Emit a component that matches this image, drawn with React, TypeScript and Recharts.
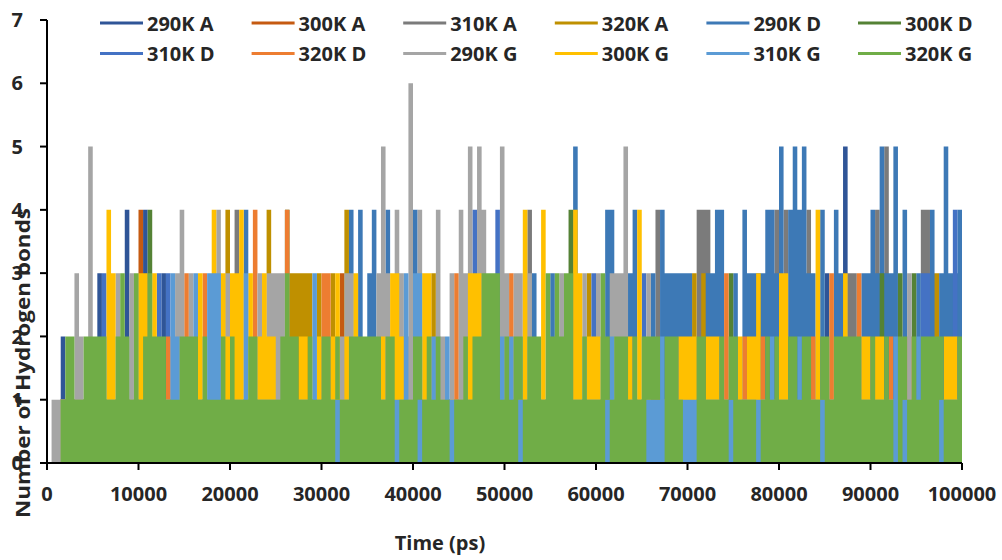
import React from 'react';
import { ComposedChart, Area, XAxis, YAxis, Legend } from 'recharts';

const WINDOW_PS = 500;

const timeTicks = [0, 10000, 20000, 30000, 40000, 50000, 60000, 70000, 80000, 90000, 100000];
const bondTicks = [0, 1, 2, 3, 4, 5, 6, 7];

const seriesNames = ['290K A', '300K A', '310K A', '320K A', '290K D', '300K D', '310K D', '320K D', '290K G', '300K G', '310K G', '320K G'];
const seriesColors = ['#2f5597', '#c55a11', '#7b7b7b', '#bf9000', '#3d79b6', '#548235', '#4472c4', '#ed7d31', '#a5a5a5', '#ffc000', '#5b9bd5', '#70ad47'];

// 20 groups of 10 windows (5000 ps each) + value at 100000 ps
const a290 = '0002111111 1311111411 1411131111 1111111111 1111111111 1111111111 1111111111 1111111111 1111111111 1111111111 1111111111 1111111111 1111111111 1111111111 1111111111 1111111111 1111111111 3111511111 1111111111 1111111111 1';
const a300 = '0001111111 1111111111 4111111111 1111111111 1111111111 1111111111 1111311111 1111111111 1111111111 1111111111 1111111111 1111111111 1111111111 1111111111 1111111111 1111111111 1111111111 1111111111 1111111111 1111111111 1';
const a310 = '0001111111 1111111111 1111111111 1111111111 1411111111 1111111111 1111111111 1111111111 1111111111 1111111111 1111141111 1111111111 1111111111 1114111111 1144411111 1111111114 1411114111 1111133111 1415111111 1441111111 1';
const a320 = '0001111111 1111111111 1111111111 1111111114 1111111141 1113333313 1131141111 1111111111 1111311111 1111111111 1111111111 1111111131 1111111111 1111111111 1313111111 1111111111 1111111111 1111111111 1111111111 1113311111 1';
const d290 = '0001111111 1111111111 1111111111 1111111111 1114111111 1111111111 1111114141 3411411111 4111111111 1111111111 1111113111 3111151111 1144111341 1131433333 3111334411 3143333443 5145453314 1143111133 4353351411 3114135334 3';
const d300 = '0001111111 1111111111 1141111111 1111111111 1111111111 1141111111 1111111111 1111111111 1111111111 1111111111 1111111111 1111411111 1111111111 1111111111 1111111113 1111111111 1111111111 1111111111 1131113113 1111111111 1';
const d310 = '0001111111 1131111111 1111313111 1111111111 1111111111 1111111111 1111111111 1111111111 1111111111 1114111141 1111111111 1111111113 1111111111 3111111111 1111111111 1111111111 1111111111 1111111111 1111111111 1331111141 1';
const d320 = '0001111111 1111111111 1111112111 3111311111 1111141111 1141111111 3311111111 1111111111 1111111113 1111111111 1311111111 1111111111 1111111111 1111111111 1111111131 1121112111 1111111211 1311111311 1111211121 1111111111 1';
const g290 = '0111113215 1111131131 1111111134 1311111413 1111113133 3311111111 1111233111 1135314326 1411142131 4351541115 3133131111 1131111311 3113335111 1311111111 1111111111 1111111111 1111111111 1111111111 1111111131 1111111111 1';
const g300 = '0001111111 1114311111 3313111111 1113114132 3341312322 1111122112 1123121311 1112133211 1133111111 1133311111 1111411141 1111143122 2111111214 1111111122 2211222111 1212231111 3311111141 1111311122 1221111111 1111112221 1';
const g310 = '0001111111 1111111111 1111111321 1131133311 1113111111 1111111131 1111111111 1111111131 3311211211 1111111112 1211111111 1111111111 1112111111 1111211111 1111111111 1111111121 1111211111 1111111111 1111121111 2111111111 1';
const g320 = '0001221122 2221123213 1232221112 2221211121 2111221111 1232211211 2212112222 2221221111 2212121111 1212233331 2122122213 2323311211 1321222121 2222122211 1122111212 2111111212 1122122112 2122222211 2112112212 1222221112 2';
// lowest count of 320K G in each window (1 where it never drops to 0)
const g320Low = '0000000000 0000000000 0000000000 0000000000 0000000000 0000000000 0001000000 0000001000 0100000010 0000000000 0001000000 0000000000 0010000000 0111100001 1100000001 0000010000 0000000001 0000000000 0000010100 0000010000 0';

const digits = (s: string) => s.replace(/\s/g, '').split('').map(Number);

const highs = [a290, a300, a310, a320, d290, d300, d310, d320, g290, g300, g310, g320].map(digits);
const greenLow = digits(g320Low);

const rows = highs[0].map((_, i) => {
  const row: Record<string, number | number[]> = { t: i * WINDOW_PS };
  highs.forEach((vals, k) => {
    row['s' + k] = [k === 11 ? greenLow[i] : 0, vals[i]];
  });
  return row;
});

const FONT = "'Open Sans', sans-serif";
const TEXT = '#262626';

function LegendGrid() {
  return (
    <svg width={1002} height={70}>
      {seriesNames.map((name, i) => {
        const x = 100 + (i % 6) * 151.6;
        const y = 23 + Math.floor(i / 6) * 30.5;
        return (
          <g key={name}>
            <line x1={x} x2={x + 43} y1={y} y2={y} stroke={seriesColors[i]} strokeWidth={3} />
            <text x={x + 47} y={y} dominantBaseline="central" fill={TEXT} fontFamily={FONT} fontWeight={700} fontSize={20}>
              {name}
            </text>
          </g>
        );
      })}
    </svg>
  );
}

function YTitle() {
  return (
    <text x={22} y={363} transform="rotate(-90 22 363)" textAnchor="middle" dominantBaseline="central"
      fill={TEXT} fontFamily={FONT} fontWeight={700} fontSize={20} textLength={310} lengthAdjust="spacingAndGlyphs">
      Number of Hydrogen bonds
    </text>
  );
}

function XTitle() {
  return (
    <text x={440} y={550} textAnchor="middle" fill={TEXT} fontFamily={FONT} fontWeight={700} fontSize={20}>
      Time (ps)
    </text>
  );
}

export default function App() {
  const tick = { fill: TEXT, fontSize: 20, fontWeight: 700, fontFamily: FONT };
  return (
    <div style={{ position: 'absolute', left: 0, top: 0, background: '#fff' }}>
      <ComposedChart width={1002} height={560} data={rows} margin={{ top: 20, right: 40, bottom: 0, left: 0 }}>
        {seriesNames.map((name, k) => (
          <Area
            key={name}
            name={name}
            dataKey={'s' + k}
            type="stepAfter"
            fill={seriesColors[k]}
            fillOpacity={1}
            stroke="none"
            dot={false}
            activeDot={false}
            legendType="line"
            isAnimationActive={false}
          />
        ))}
        <XAxis
          dataKey="t"
          type="number"
          domain={[0, 100000]}
          ticks={timeTicks}
          interval={0}
          height={97}
          tickSize={7}
          tickMargin={17}
          tick={tick}
          axisLine={{ stroke: '#000', strokeWidth: 2 }}
          tickLine={{ stroke: '#000', strokeWidth: 2 }}
          label={<XTitle />}
        />
        <YAxis
          type="number"
          domain={[0, 7]}
          ticks={bondTicks}
          interval={0}
          width={47}
          tickSize={7}
          tickMargin={17}
          tick={tick}
          axisLine={{ stroke: '#000', strokeWidth: 2 }}
          tickLine={{ stroke: '#000', strokeWidth: 2 }}
          label={<YTitle />}
        />
        <Legend
          layout="vertical"
          verticalAlign="middle"
          align="center"
          content={<LegendGrid />}
          wrapperStyle={{ top: 0, left: 0, width: 1002, height: 70 }}
        />
      </ComposedChart>
    </div>
  );
}
